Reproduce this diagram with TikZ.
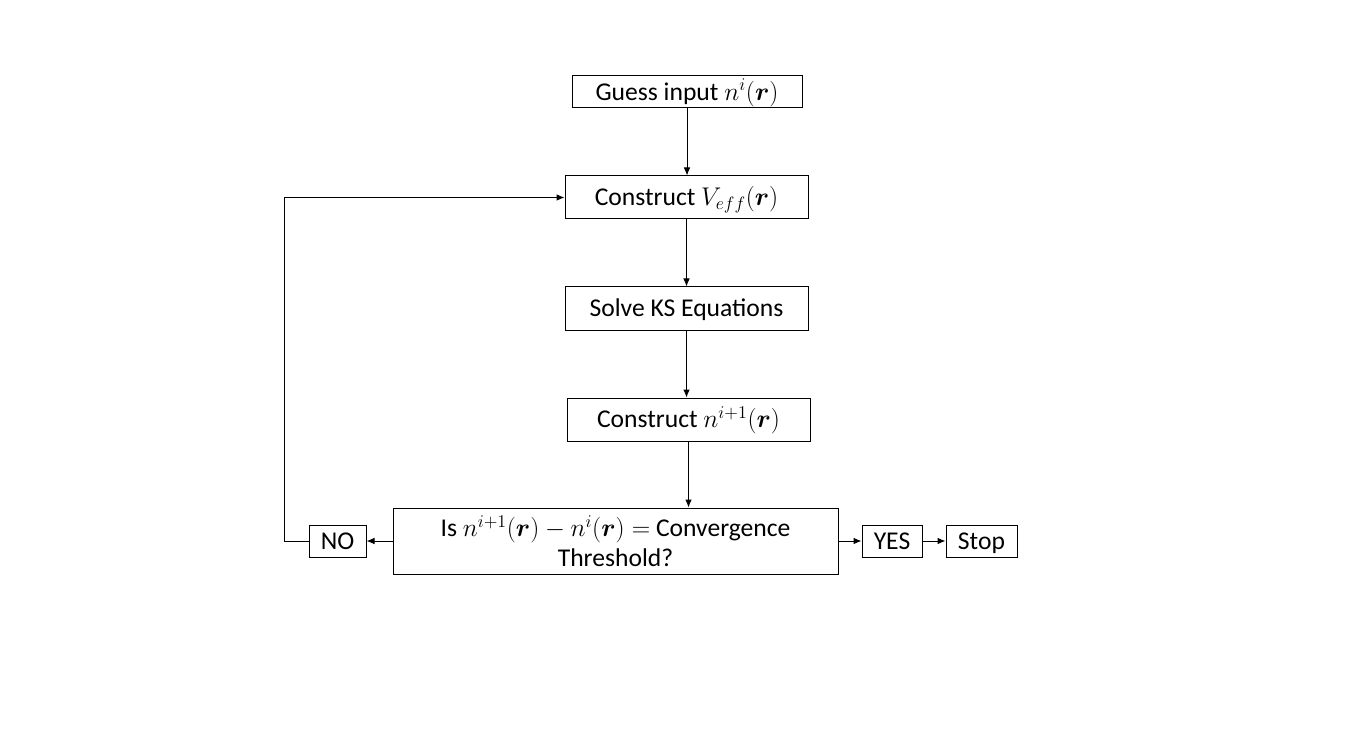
\RequirePackage{fix-cm}
\documentclass[tikz,border=0pt]{standalone}
\usepackage{amsmath}
\usepackage{amssymb}
\usepackage{fontspec}
\setmainfont{Carlito}
\usetikzlibrary{positioning,arrows.meta}
\tikzset{
  box/.style={draw, line width=0.75pt, inner sep=0pt, minimum height=32.25pt,
              text height=16pt, text depth=3.8pt,
              font=\fontsize{19.2}{23}\selectfont},
  small/.style={box, minimum height=24pt},
  flow/.style={-{Latex[length=6pt,width=5pt]}, line width=0.75pt}
}

\begin{document}
\begin{tikzpicture}[x=0.75pt, y=-0.75pt]
             \useasboundingbox (0,0) rectangle (1358,755);

             \node (guess) [small, minimum width=172.5pt] at (687,92) {Guess input $n^{i}(\boldsymbol{r})$};
             \node (veff) [box, minimum width=182.25pt] at (686.5,197.5) {Construct $V_{eff}(\boldsymbol{r})$};
             \node (ks) [box, minimum width=182.25pt] at (686.5,308.5) {Solve KS Equations};
             \node (dens) [box, minimum width=182.25pt] at (688.5,419.5) {Construct $n^{i+1}(\boldsymbol{r})$};

             \node (conv) [box, text height=, text depth=, minimum width=333.75pt, minimum height=49.5pt, align=center] at (615.5,541)
                  {Is $n^{i+1}(\boldsymbol{r}) - n^{i}(\boldsymbol{r}) =$ Convergence\\[-1pt] Threshold?};

             \node (no) [small, minimum width=42.75pt] at (337.5,541) {NO};
             \node (yes) [small, minimum width=45pt] at (892,541) {YES};
             \node (stop) [small, minimum width=53.25pt] at (981.5,541) {Stop};

             \coordinate (turn) at (284,541);

             \draw [flow] (guess.south) -- (guess.south |- veff.north);
             \draw [flow] (veff.south) -- (veff.south |- ks.north);
             \draw [flow] (ks.south) -- (ks.south |- dens.north);
             \draw [flow] (dens) -- (dens |- conv.north);

             \draw [flow] (conv) -- (no);
             \draw [flow] (conv) -- (yes);
             \draw [flow] (yes) -- (stop);

             \draw [flow] (no.west) -- (turn) |- (veff.west);
\end{tikzpicture}
\end{document}
